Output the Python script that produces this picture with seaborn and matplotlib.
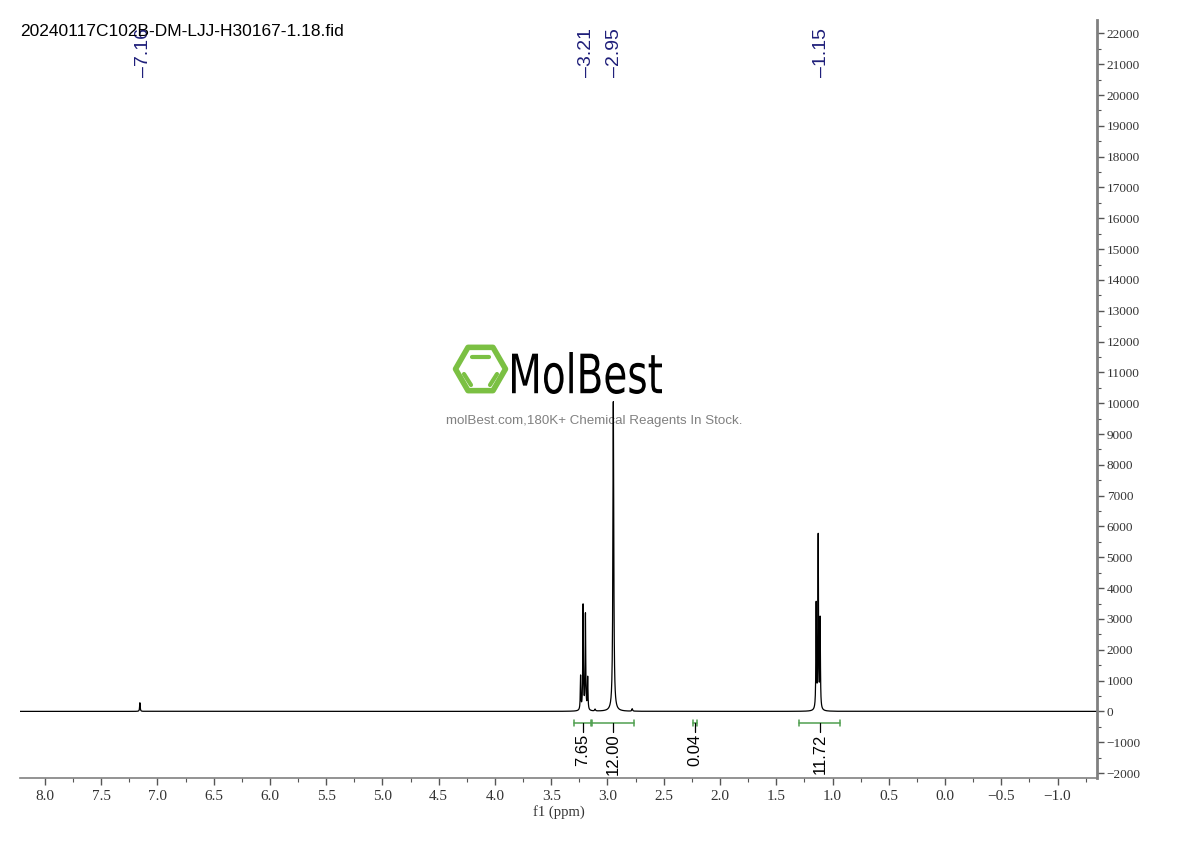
#1H NMR SPECTRUM (MolBest style print-out)

import numpy as np
import pandas as pd
import matplotlib.pyplot as plt
import seaborn as sns
from matplotlib.textpath import TextPath
from matplotlib.patches import PathPatch, RegularPolygon
from matplotlib.transforms import Affine2D
from matplotlib.font_manager import FontProperties

# peak list: shift (ppm), height, half width (ppm)
peak_shift = [7.156, 3.239, 3.217, 3.196, 3.176, 3.110, 2.948, 2.780, 1.145, 1.127, 1.110]
peak_height = [280, 1100, 3400, 3100, 1050, 60, 10050, 80, 3400, 5600, 2900]
peak_hwhm = [0.003, 0.003, 0.003, 0.003, 0.003, 0.004, 0.0045, 0.004, 0.003, 0.003, 0.003]

# picked peak labels on top
label_ppm = [7.16, 3.21, 2.95, 1.15]
label_pos = [7.125, 3.185, 2.935, 1.10]  # where the label lines sit

# integration regions
integ_lo = [3.295, 3.138, 2.240, 1.295]
integ_hi = [3.149, 2.762, 2.207, 0.931]
integ_val = ["7.65", "12.00", "0.04", "11.72"]

title = "20240117C102B-DM-LJJ-H30167-1.18.fid"

# build the spectrum from the peak list
ppm = np.linspace(8.23, -1.36, 60000)
intensity = np.zeros_like(ppm)
for s, h, w in zip(peak_shift, peak_height, peak_hwhm):
    intensity += h * w**2 / ((ppm - s)**2 + w**2)
df = pd.DataFrame({"ppm": ppm, "intensity": intensity})

sns.set_style("white")
plt.rcParams['font.family'] = ['Liberation Sans', 'DejaVu Sans']

fig = plt.figure(figsize=(11.9, 8.41), dpi=100)

# watermark layer in pixel coordinates
wm = fig.add_axes([0, 0, 1, 1])
wm.set_xlim(0, 1190)
wm.set_ylim(841, 0)
wm.axis('off')
green = "#7bc043"
wm.add_patch(RegularPolygon((480.5, 369), numVertices=6, radius=25, orientation=np.pi / 6,
                            fill=False, edgecolor=green, lw=4, joinstyle='round'))
wm.plot([472, 489], [357, 357], color=green, lw=3, solid_capstyle='round')
wm.plot([464, 471], [374, 385], color=green, lw=3, solid_capstyle='round')
wm.plot([497, 490], [374, 385], color=green, lw=3, solid_capstyle='round')
tp = TextPath((0, 0), "MolBest", size=1, prop=FontProperties(family="DejaVu Sans"))
ext = tp.get_extents()
sx = (662 - 512) / ext.width
sy = (394 - 352) / ext.height
tr = Affine2D().translate(-ext.x0, -ext.y0).scale(sx, -sy).translate(512, 394)
wm.add_patch(PathPatch(tr.transform_path(tp), facecolor="black", edgecolor="none"))
wm.text(594, 421, "molBest.com,180K+ Chemical Reagents In Stock.", fontsize=9.6,
        color="#808080", ha='center', va='center')

# main spectrum axes
ax = fig.add_axes([20 / 1190, 63 / 841, 1077 / 1190, 758 / 841])
ax.set_zorder(2)
ax.patch.set_alpha(0)
sns.lineplot(data=df, x="ppm", y="intensity", ax=ax, color="black", lw=0.9, estimator=None)
ax.set_xlim(8.222, -1.351)
ax.set_ylim(-2162, 22435)

ax.set_xticks(np.arange(8.0, -1.01, -0.5))
ax.set_xticks(np.arange(8.0, -1.3, -0.25), minor=True)
ax.set_xticklabels([f"{v:.1f}".replace("-", "\u2212") for v in np.arange(8.0, -1.01, -0.5)])
ax.set_yticks(np.arange(-2000, 22001, 1000))
ax.set_yticks(np.arange(-2000, 22001, 500), minor=True)
ax.set_yticklabels([f"{v}".replace("-", "\u2212") for v in range(-2000, 22001, 1000)])
ax.yaxis.tick_right()
ax.set_ylabel("")
ax.set_xlabel("f1 (ppm)", family="Liberation Serif", fontsize=10.5, color="#333333", labelpad=1)

for side in ["top", "left"]:
    ax.spines[side].set_visible(False)
ax.spines["right"].set_color("#808080")
ax.spines["right"].set_linewidth(2)
ax.spines["bottom"].set_color("#808080")
ax.spines["bottom"].set_linewidth(1.2)
ax.tick_params(axis='x', which='major', direction='out', length=5, width=1, color="#555555",
               labelsize=11, labelcolor="#333333", pad=4, bottom=True)
ax.tick_params(axis='x', which='minor', direction='out', length=3, width=0.8, color="#555555", bottom=True)
ax.tick_params(axis='y', which='major', direction='out', length=5, width=1, color="#555555",
               labelsize=9.5, labelcolor="#333333", pad=2, right=True, left=False)
ax.tick_params(axis='y', which='minor', direction='out', length=3, width=0.8, color="#555555",
               right=True, left=False)
for lab in ax.get_xticklabels() + ax.get_yticklabels():
    lab.set_family("Liberation Serif")

# picked peak labels
for pos, val in zip(label_pos, label_ppm):
    ax.text(pos, 20580, "\u2013" + f"{val:.2f}", rotation=90, ha='center', va='bottom',
            fontsize=14, color="#1f1f7a")

# integration brackets
igreen = "#4f9f4f"
for lo, hi, val in zip(integ_lo, integ_hi, integ_val):
    mid = (lo + hi) / 2
    ax.plot([lo, hi], [-370, -370], color=igreen, lw=1.1)
    ax.plot([lo, lo], [-270, -470], color=igreen, lw=1.1)
    ax.plot([hi, hi], [-270, -470], color=igreen, lw=1.1)
    ax.plot([mid, mid], [-370, -670], color="black", lw=0.9)
    ax.text(mid, -720, val, rotation=90, ha='center', va='top', fontsize=12, color="black")

fig.text(20 / 1190, 1 - 36 / 841, title, fontsize=12.5, color="black", ha='left', va='baseline')

fig.savefig("out.png", dpi=100)
